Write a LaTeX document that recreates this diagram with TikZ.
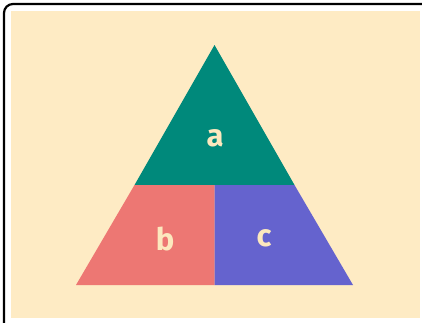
\documentclass[tikz,border=0pt]{standalone}
\usepackage{fontspec}
\setmainfont{Fira Sans}
\definecolor{cream}{RGB}{254,235,196}
\definecolor{teal}{RGB}{0,137,123}
\definecolor{salmon}{RGB}{237,119,115}
\definecolor{violet}{RGB}{101,99,206}
\definecolor{labelc}{RGB}{252,232,190}
\begin{document}
\begin{tikzpicture}[x=1pt,y=-1pt,
  lbl/.style={text=labelc,font=\fontsize{31}{36}\selectfont\bfseries,inner sep=0pt}]
\useasboundingbox (0,0) rectangle (422,322);
\begin{scope}
\clip (0,0) rectangle (422,322);
\fill[white] (0,0) rectangle (422,322);
\draw[black,line width=2.2pt,rounded corners=9pt] (4,4) rectangle (440,340);
\fill[cream] (11,11) rectangle (420,318);
\end{scope}
\coordinate (apex) at (214.5,45);
\coordinate (bl) at (76,285);
\coordinate (br) at (353,285);
\coordinate (ml) at (134.5,185);
\coordinate (mr) at (294.5,185);
\coordinate (mm) at (214.5,185);
\coordinate (bm) at (214.5,285);
\fill[teal] (apex) -- (mr) -- (ml) -- cycle;
\fill[salmon] (ml) -- (mm) -- (bm) -- (bl) -- cycle;
\fill[violet] (mm) -- (mr) -- (br) -- (bm) -- cycle;
\node[lbl] (a) at (215,138) {a};
\node[lbl] (b) at (165,238.5) {b};
\node[lbl] (c) at (264,238.5) {c};
\end{tikzpicture}
\end{document}
